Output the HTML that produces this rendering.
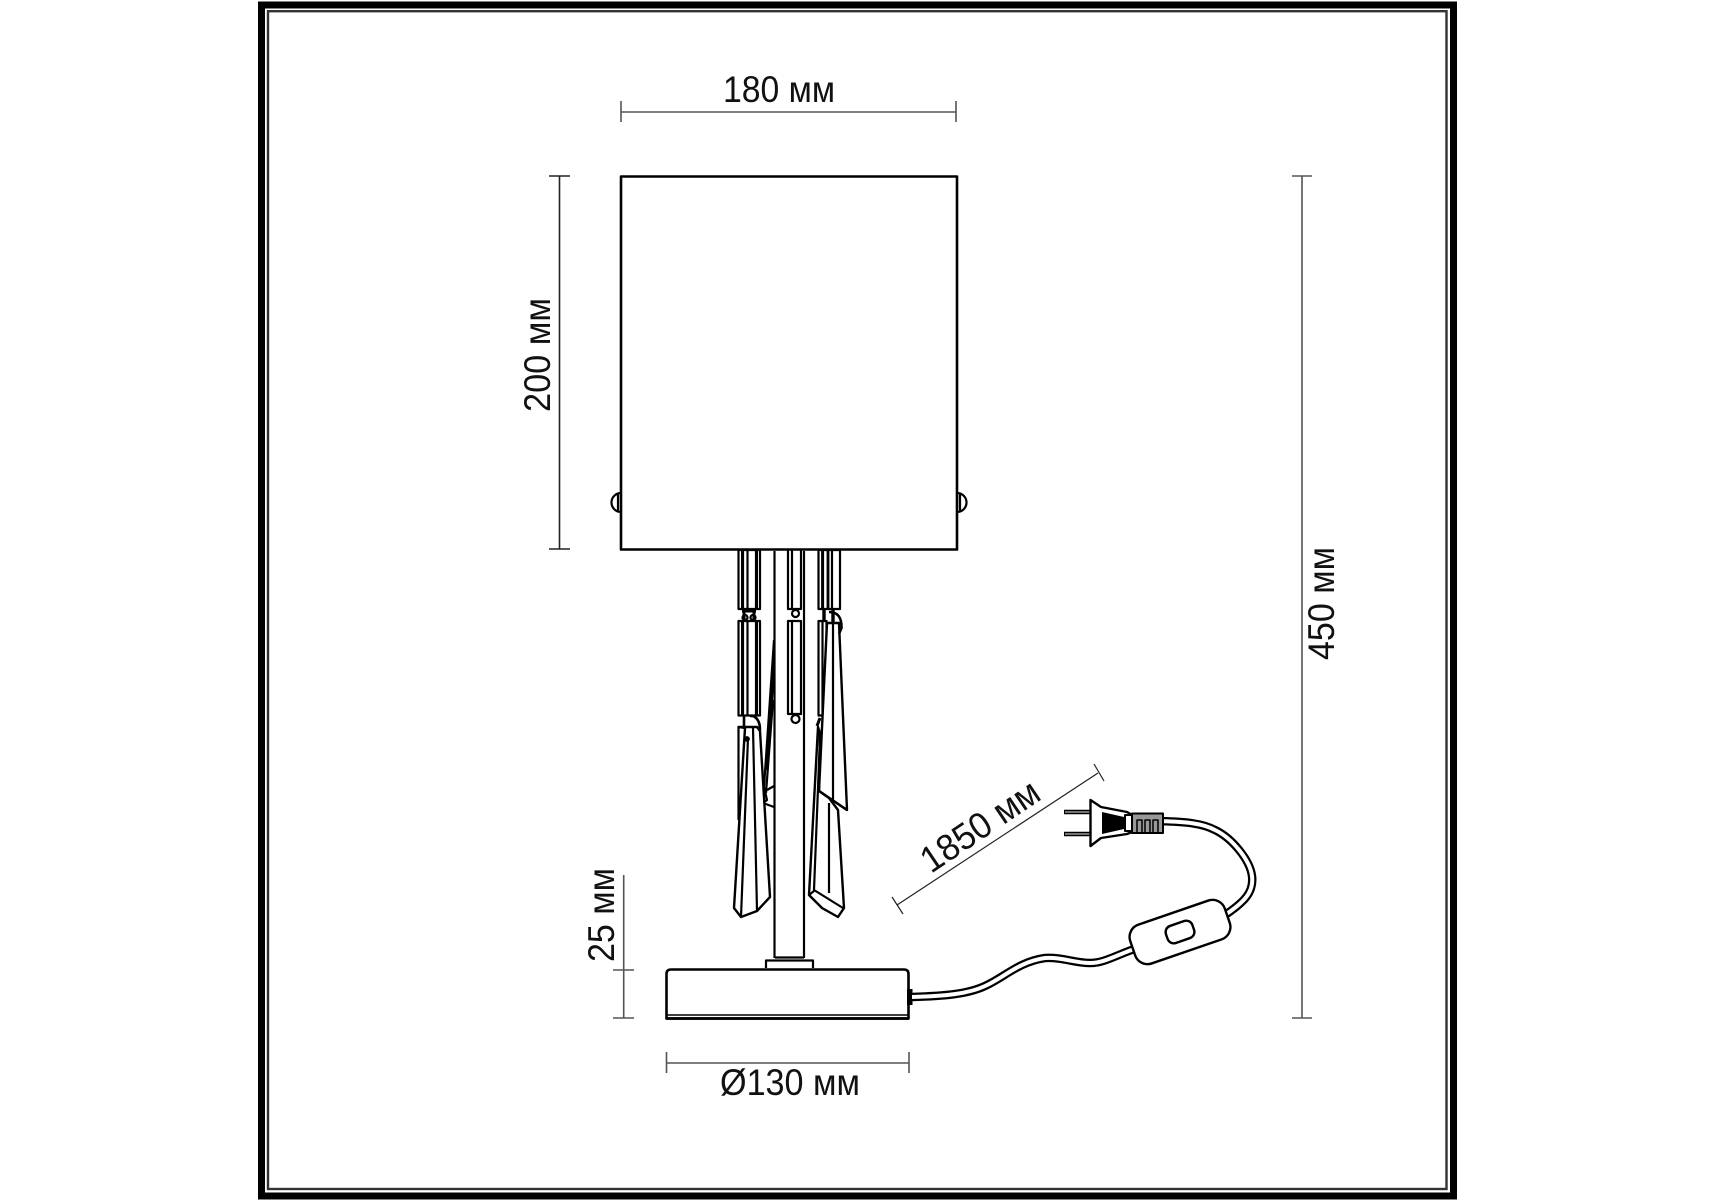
<!DOCTYPE html>
<html lang="ru"><head><meta charset="utf-8"><title>Lamp</title>
<style>html,body{margin:0;padding:0;background:#fff}svg{display:block}text{font-family:"Liberation Sans",sans-serif;font-size:37px;fill:#111}</style></head>
<body>
<svg width="1715" height="1200" viewBox="0 0 1715 1200" xmlns="http://www.w3.org/2000/svg">
<rect width="1715" height="1200" fill="#fff"/>
<!-- frame -->
<rect x="261.5" y="5" width="1192" height="1191" fill="none" stroke="#000" stroke-width="7"/>
<rect x="268" y="11.2" width="1178.5" height="1177.8" fill="none" stroke="#333" stroke-width="2.4"/>
<!-- dimensions -->
<g stroke="#555" stroke-width="1.6" fill="none">
<path d="M621 112H956M621 101V122M956 101V122"/>
<path d="M559.5 176V549M549 176H570M549 549H570" stroke="#222"/>
<path d="M623.7 875V1018M613 970H634M613 1018H634"/>
<path d="M1302 176V1018M1292 176H1312M1292 1018H1312"/>
<path d="M666.5 1063H909M666.5 1052V1073M909 1052V1073"/>
<path d="M897 905L1098 773M892 897L903 914M1094 764L1104 781" stroke="#222" stroke-width="1.2"/>
</g>
<text x="723" y="102" textLength="112" lengthAdjust="spacingAndGlyphs">180 мм</text>
<text transform="translate(550 412) rotate(-90)" textLength="114" lengthAdjust="spacingAndGlyphs">200 мм</text>
<text transform="translate(614 962) rotate(-90)" textLength="94" lengthAdjust="spacingAndGlyphs">25 мм</text>
<text transform="translate(1334 660) rotate(-90)" textLength="113" lengthAdjust="spacingAndGlyphs">450 мм</text>
<text x="720" y="1095" textLength="140" lengthAdjust="spacingAndGlyphs">Ø130 мм</text>
<text transform="translate(931 874) rotate(-34)" textLength="135" lengthAdjust="spacingAndGlyphs">1850 мм</text>

<g fill="none" stroke="#000" stroke-width="2.2" stroke-linejoin="round">
<!-- shade screws -->
<path d="M621 493A9.5 9.5 0 0 0 621 512M618 494.5V510.5" stroke-width="2.2"/>
<path d="M957 493A9.5 9.5 0 0 1 957 512M960 494.5V510.5" stroke-width="2.2"/>
<!-- shade -->
<rect x="621" y="176.5" width="336" height="373" fill="#fff" stroke-width="2.6"/>
<!-- stem -->
<path d="M774.5 551V958M804 551V958M775 957.5H804"/>
<path d="M766 968V960.5H813V968" fill="#fff"/>
<!-- base -->
<path d="M666.5 1018.5V974Q666.5 969.5 671 969.5H904Q908.5 969.5 908.5 974V1018.5Z" fill="#fff" stroke-width="2.6"/>
<path d="M666.5 1015H908.5" stroke-width="1.6"/>
<path d="M666.5 1018.5H908.5" stroke-width="2.8"/>
<rect x="907" y="989" width="5.5" height="16" fill="#000" stroke="none"/>
<!-- left crystal rods -->
<rect x="738.5" y="550" width="21.5" height="59"/>
<path d="M743 550V609M747.5 550V609M756 550V609"/>
<path d="M742.5 550V609M756.5 550V609" stroke-width="3"/>
<rect x="738.5" y="621" width="21.5" height="94.5"/>
<path d="M743 621V715M747.5 621V715M756 621V715"/>
<path d="M742.5 621V715M756.5 621V715" stroke-width="3"/>
<path d="M744 609V621M754 609V621M742 611H756" stroke-width="3"/>
<circle cx="745" cy="617.5" r="2.5"/><circle cx="753" cy="617.5" r="2.5"/>
<!-- middle rods -->
<path d="M788 550V609H801V550M792 550V609"/>
<circle cx="795.5" cy="613.5" r="3.5"/>
<path d="M788 621V714H801V621ZM792 621V714"/>
<circle cx="795.5" cy="719" r="4"/>
<!-- right rods -->
<rect x="818.5" y="550" width="21.5" height="59"/>
<path d="M823 550V609M828 550V609M832 550V609"/>
<path d="M822.5 550V609M828 550V609" stroke-width="2.8"/>
<rect x="818.5" y="621" width="8" height="94.5"/>
<path d="M822.5 621V715"/>
<path d="M824 609V622M833 609V622" stroke-width="3.4"/>
<!-- central prism behind stem -->
<path d="M774 640L764 787L767 800L763 803L774 807M773 700L766 793M767 790L774 786"/>
<path d="M774 660L767 770" stroke-width="3"/>
<!-- right upper prism -->
<path d="M827 623H839L847 810L819 791Z" fill="#fff" stroke-width="2.4"/>
<path d="M833 623V802"/>
<path d="M829 612Q842 612 841.5 628L839 634" stroke-width="2.6"/>
<!-- right lower prism -->
<path d="M818 727L820 733L819 791L829 798L838 810L844 908L838 917L822 908L809 895Z" fill="#fff" stroke-width="2.4"/>
<path d="M820 737L814 890L843 908M829 803V893M814 891L809 895"/>
<path d="M819 791L847 810" stroke-width="2.4"/>
<path d="M817 726L820 718" stroke-width="3"/>
<!-- left lower rod/prism -->
<path d="M738.5 727V820"/>
<path d="M738.5 727H757L760 731L770 897L757 911L741 917L734 908L745 728Z" fill="#fff" stroke-width="2.4"/>
<path d="M748 738L741 917M753 728L757 911"/>
<path d="M744 716V728M750 716H753Q760 719 760 730" stroke-width="2.6"/>
<circle cx="747" cy="739" r="1.8" fill="#000"/>
<!-- cord -->
<path d="M912 997C945 996 968 994 985 986C1005 977 1018 962 1045 958C1062 957 1075 963 1090 963C1105 963 1118 954 1140 947" stroke="#000" stroke-width="8.5"/>
<path d="M912 997C945 996 968 994 985 986C1005 977 1018 962 1045 958C1062 957 1075 963 1090 963C1105 963 1118 954 1140 947" stroke="#fff" stroke-width="4"/>
<path d="M1222 917C1245 902 1254 892 1252 876C1250 860 1232 838 1215 830C1200 822 1180 822 1160 821" stroke="#000" stroke-width="8.5"/>
<path d="M1222 917C1245 902 1254 892 1252 876C1250 860 1232 838 1215 830C1200 822 1180 822 1160 821" stroke="#fff" stroke-width="4"/>
<!-- switch -->
<rect x="-50" y="-20.5" width="100" height="41" rx="13" transform="translate(1180 932) rotate(-19)" fill="#fff" stroke-width="2.4"/>
<rect x="-14" y="-9" width="28" height="18" rx="6.5" transform="translate(1180 932) rotate(-19)" fill="#fff" stroke-width="2.4"/>
<!-- plug -->
<path d="M1064 812H1090M1064 834H1090" stroke="#000" stroke-width="4.5"/>
<path d="M1065 812H1090M1065 834H1090" stroke="#999" stroke-width="1.5"/>
<path d="M1090.5 800L1101 807L1127 812L1132 815V832L1127 834L1101 838L1090.5 846Z" fill="#fff" stroke-width="2.4"/>
<path d="M1102 812L1124 817V829L1102 834Z" fill="#000" stroke="none"/>
<rect x="1125" y="815" width="7" height="16" fill="#fff" stroke-width="2"/>
<rect x="1132" y="813.5" width="31" height="19.5" fill="#999" stroke-width="2"/>
<path d="M1137 833V820H1142V833M1145 833V820H1150V833M1153 833V820H1158V833" stroke-width="1.5"/>
</g>
</svg>
</body></html>
